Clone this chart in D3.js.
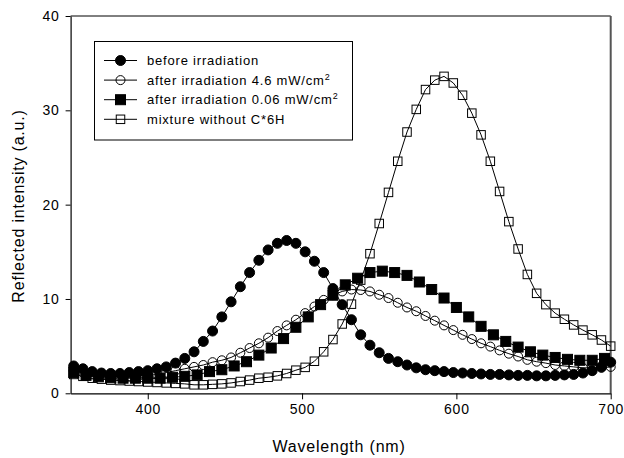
<!DOCTYPE html>
<html>
<head>
<meta charset="utf-8">
<script src="https://cdn.jsdelivr.net/npm/d3@7"></script>
<style>
  body { margin: 0; background: #fff; }
  svg { display: block; font-family: Arial, "Liberation Sans", sans-serif; }
</style>
</head>
<body>
<div id="chart"></div>
<script>
// wavelengths (nm) - most series sampled every 6 nm, the 0.06 mW/cm2 series every 8 nm
var wl6 = [352,358,364,370,376,382,388,394,400,406,412,418,424,430,436,442,448,454,460,466,
           472,478,484,490,496,502,508,514,520,526,532,538,544,550,556,562,568,574,580,586,
           592,598,604,610,616,622,628,634,640,646,652,658,664,670,676,682,688,694,700];
var wl8 = [352,360,368,376,384,392,400,408,416,424,432,440,448,456,464,472,480,488,496,504,
           512,520,528,536,544,552,560,568,576,584,592,600,608,616,624,632,640,648,656,664,
           672,680,688,696];

var beforeIrr = [2.9,2.6,2.3,2.15,2.1,2.1,2.2,2.3,2.4,2.6,2.8,3.2,3.7,4.4,5.5,6.6,8.1,9.7,11.3,12.8,
                 14.1,15.2,15.9,16.2,15.9,15.0,14.0,12.8,11.1,9.4,7.8,6.2,5.1,4.3,3.7,3.35,3.0,2.7,2.5,2.4,
                 2.3,2.2,2.15,2.1,2.05,2.0,2.0,1.95,1.9,1.9,1.85,1.85,1.9,1.95,2.0,2.15,2.4,2.8,3.3];
var after46 = [2.4,2.2,2.0,1.9,1.8,1.8,1.8,1.8,1.9,2.0,2.2,2.4,2.6,2.8,3.0,3.3,3.5,3.8,4.3,4.8,
               5.3,5.9,6.6,7.2,7.8,8.5,9.2,9.9,10.4,10.8,11.0,10.95,10.8,10.45,10.1,9.6,9.1,8.7,8.2,7.7,
               7.2,6.7,6.2,5.75,5.3,4.95,4.55,4.2,3.9,3.55,3.35,3.2,3.0,2.9,2.8,2.7,2.7,2.7,2.8];
var after006 = [2.2,1.9,1.75,1.65,1.6,1.6,1.6,1.6,1.7,1.8,1.95,2.3,2.5,2.9,3.35,4.05,4.8,5.8,7.0,8.1,
                9.4,10.4,11.5,12.2,12.8,12.95,12.8,12.5,11.8,11.0,10.1,9.1,8.1,7.1,6.2,5.5,4.9,4.4,4.05,3.8,
                3.6,3.5,3.5,3.7];
var mixture = [2.0,1.8,1.6,1.5,1.4,1.35,1.3,1.25,1.2,1.15,1.1,1.05,1.0,0.9,0.9,0.95,1.0,1.1,1.25,1.4,
               1.6,1.7,1.85,2.1,2.45,2.75,3.4,4.4,5.7,7.35,9.45,12.0,14.8,18.0,21.3,24.6,27.7,30.1,32.2,33.2,
               33.6,32.9,31.6,29.7,27.4,24.6,21.4,18.2,15.3,12.6,10.6,9.4,8.5,7.85,7.25,6.7,6.2,5.65,5.0];

var xTicks = [400, 500, 600, 700];
var yTicks = [0, 10, 20, 30, 40];

// series: label, x values, y values, marker kind
var series = [
  {label: "after irradiation 4.6 mW/cm", sup: "2", x: wl6, y: after46, shape: "circle", filled: false},
  {label: "after irradiation 0.06 mW/cm", sup: "2", x: wl8, y: after006, shape: "square", filled: true},
  {label: "before irradiation", sup: "", x: wl6, y: beforeIrr, shape: "circle", filled: true},
  {label: "mixture without C*6H", sup: "", x: wl6, y: mixture, shape: "square", filled: false}
];
var legendOrder = [2, 0, 1, 3];

var W = 624, H = 458;
var margin = {top: 16, right: 13.3, bottom: 64.7, left: 70.6},
    width = W - margin.left - margin.right,
    height = H - margin.top - margin.bottom;

var svg = d3.select("#chart")
  .append("svg")
    .attr("width", W)
    .attr("height", H);

var g = svg.append("g")
    .attr("transform", `translate(${margin.left},${margin.top})`);

var x = d3.scaleLinear().domain([350, 700]).range([0, width]);
var y = d3.scaleLinear().domain([0, 40]).range([height, 0]);

// frame: top and right
g.append("line").attr("x1", 0).attr("x2", width).attr("y1", 0).attr("y2", 0)
  .attr("stroke", "#000").attr("stroke-width", 1);
g.append("line").attr("x1", width).attr("x2", width).attr("y1", 0).attr("y2", height)
  .attr("stroke", "#555").attr("stroke-width", 2);

// axes
var xAxis = g.append("g")
    .attr("transform", `translate(0,${height})`)
    .call(d3.axisBottom(x).tickValues(xTicks).tickSize(6).tickPadding(5).tickSizeOuter(0));
var yAxis = g.append("g")
    .call(d3.axisLeft(y).tickValues(yTicks).tickSize(5).tickPadding(6).tickSizeOuter(0));

[xAxis, yAxis].forEach(function(a) {
  a.select(".domain").attr("stroke", "#000").attr("stroke-width", 1.2);
  a.selectAll(".tick line").attr("stroke", "#000");
  a.selectAll(".tick text")
    .attr("fill", "#000")
    .style("font-size", "14px")
    .style("letter-spacing", "0.8px")
    .style("font-family", "Arial, 'Liberation Sans', sans-serif");
});

// axis titles
svg.append("text")
  .attr("x", 339).attr("y", 452)
  .attr("text-anchor", "middle")
  .style("font-size", "16px")
  .style("letter-spacing", "0.8px")
  .text("Wavelength (nm)");
svg.append("text")
  .attr("transform", "translate(24,206) rotate(-90)")
  .attr("text-anchor", "middle")
  .style("font-size", "16px")
  .style("letter-spacing", "0.8px")
  .text("Reflected intensity (a.u.)");

function drawMarker(sel, s, cx, cy) {
  if (s.shape === "circle") {
    sel.append("circle")
      .attr("cx", cx).attr("cy", cy)
      .attr("r", s.filled ? 5 : 4.5)
      .attr("fill", s.filled ? "#000" : "none")
      .attr("stroke", "#000").attr("stroke-width", 1);
  } else {
    var a = s.filled ? 10 : 8.5;
    sel.append("rect")
      .attr("x", cx - a / 2).attr("y", cy - a / 2)
      .attr("width", a).attr("height", a)
      .attr("fill", s.filled ? "#000" : "none")
      .attr("stroke", "#000").attr("stroke-width", 1);
  }
}

var line = d3.line()
  .x(function(d) { return x(d[0]); })
  .y(function(d) { return y(d[1]); });

series.forEach(function(s) {
  var pts = s.x.map(function(v, i) { return [v, s.y[i]]; });
  var sg = g.append("g");
  sg.append("path")
    .datum(pts)
    .attr("d", line)
    .attr("fill", "none")
    .attr("stroke", "#000")
    .attr("stroke-width", 1);
  pts.forEach(function(p) { drawMarker(sg, s, x(p[0]), y(p[1])); });
});

// legend
var lg = svg.append("g");
lg.append("rect")
  .attr("x", 94.5).attr("y", 41.5)
  .attr("width", 258).attr("height", 98.5)
  .attr("fill", "#fff").attr("stroke", "#000").attr("stroke-width", 1);

legendOrder.forEach(function(idx, i) {
  var s = series[idx];
  var cy = 60.5 + i * 19.6;
  lg.append("line")
    .attr("x1", 104).attr("x2", 137).attr("y1", cy).attr("y2", cy)
    .attr("stroke", "#000").attr("stroke-width", 1);
  drawMarker(lg, s, 120.5, cy);
  var t = lg.append("text")
    .attr("x", 147).attr("y", cy + 4.5)
    .style("font-size", "13px")
    .style("letter-spacing", "0.8px")
    .text(s.label);
  if (s.sup) {
    t.append("tspan").attr("dy", -5).style("font-size", "9px").text(s.sup);
  }
});
</script>
</body>
</html>
